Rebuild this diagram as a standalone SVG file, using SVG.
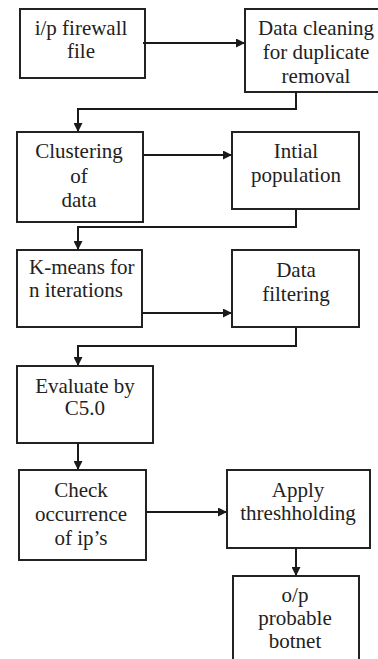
<svg xmlns="http://www.w3.org/2000/svg" width="378" height="659" viewBox="0 0 378 659">
<defs>
<marker id="ah" markerWidth="9" markerHeight="9" refX="8" refY="4.5" orient="auto" markerUnits="userSpaceOnUse">
<path d="M0,0 L9,4.5 L0,9 Z" fill="#1a1a1a"/>
</marker>
</defs>
<style>
.box{fill:#fff;stroke:#222;stroke-width:2}
text{font-family:'Liberation Serif','Times New Roman',serif;font-size:21px;fill:#222;text-anchor:middle}
text.l{text-anchor:start}
.c{fill:none;stroke:#1a1a1a;stroke-width:2;marker-end:url(#ah)}
</style>
<rect width="378" height="659" fill="#fff"/>
<g id="n1"><rect class="box" x="20" y="9" width="125" height="69"/>
<text x="81" y="35">i/p firewall</text><text x="81" y="58">file</text></g>
<g id="n2"><rect class="box" x="245" y="9" width="140" height="83"/>
<text x="316" y="35">Data cleaning</text><text x="316" y="59">for duplicate</text><text x="316" y="83">removal</text></g>
<g id="n3"><rect class="box" x="17" y="132" width="126" height="90"/>
<text x="79" y="158">Clustering</text><text x="79" y="183">of</text><text x="79" y="207">data</text></g>
<g id="n4"><rect class="box" x="232" y="132" width="127" height="77"/>
<text x="296" y="158">Intial</text><text x="296" y="182">population</text></g>
<g id="n5"><rect class="box" x="17" y="250" width="125" height="77"/>
<text class="l" x="29" y="274">K-means  for</text><text class="l" x="29" y="297">n iterations</text></g>
<g id="n6"><rect class="box" x="232" y="250" width="127" height="77"/>
<text x="296" y="277">Data</text><text x="296" y="301">filtering</text></g>
<g id="n7"><rect class="box" x="17" y="366" width="136" height="77"/>
<text x="85" y="393">Evaluate by</text><text x="85" y="415">C5.0</text></g>
<g id="n8"><rect class="box" x="19" y="470" width="127" height="90"/>
<text x="81" y="497">Check</text><text x="81" y="521">occurrence</text><text x="81" y="545">of ip’s</text></g>
<g id="n9"><rect class="box" x="227" y="470" width="143" height="78"/>
<text x="298" y="497">Apply</text><text x="298" y="520">threshholding</text></g>
<g id="n10"><rect class="box" x="233" y="576" width="126" height="95"/>
<text x="295" y="602">o/p</text><text x="295" y="625">probable</text><text x="295" y="648">botnet</text></g>
<g id="connectors">
<path class="c" d="M143,43 H244"/>
<path class="c" d="M296,92 V109 H78 V131"/>
<path class="c" d="M143,155 H231"/>
<path class="c" d="M296,209 V227 H78 V249"/>
<path class="c" d="M142,313 H231"/>
<path class="c" d="M296,327 V346 H78 V365"/>
<path class="c" d="M78,443 V469"/>
<path class="c" d="M146,512 H226"/>
<path class="c" d="M296,548 V575"/>
</g>
</svg>
